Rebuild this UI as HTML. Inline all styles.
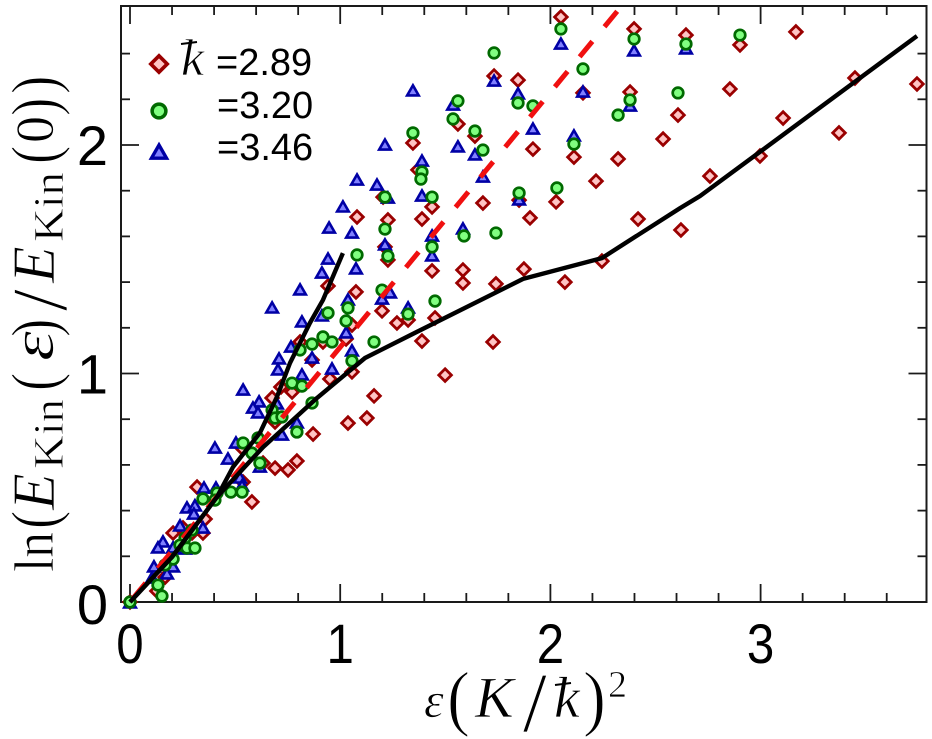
<!DOCTYPE html>
<html>
<head>
<meta charset="utf-8">
<style>
html,body{margin:0;padding:0;background:#fff;}
svg{display:block;}
.tick-label{font-family:"Liberation Sans",Arial,sans-serif;font-size:56px;fill:#000;}
.legend-label{font-family:"Liberation Sans",Arial,sans-serif;font-size:38px;fill:#000;}
.math{font-family:"Liberation Serif","DejaVu Serif",serif;fill:#000;stroke:#fff;stroke-width:0.7px;}
.it{font-style:italic;}
</style>
</head>
<body>
<svg id="chart" xmlns="http://www.w3.org/2000/svg" width="932" height="739" viewBox="0 0 932 739">
  <rect x="0" y="0" width="932" height="739" fill="#fff"/>
  <g id="grid-ticks"></g>
  <rect x="121" y="6" width="805.5" height="596" fill="none" stroke="#1a1a1a" stroke-width="2"/>
  <g id="tick-labels"></g>
  <g id="marks"></g>
  <g id="lines"></g>
  <g id="legend">
    <text class="math it" x="181" y="75" font-size="52">k</text>
    <line x1="181" y1="44" x2="197" y2="42" stroke="#000" stroke-width="2"/>
    <text class="legend-label" x="216" y="75">=2.89</text>
    <text class="legend-label" x="217" y="118">=3.20</text>
    <text class="legend-label" x="217" y="160">=3.46</text>
  </g>
  <g>
    <text class="math it" x="424" y="717" font-size="50">ε</text>
    <text class="math" font-size="46" transform="translate(447,722) scale(1.5,1.58)">(</text>
    <text class="math it" x="475" y="717" font-size="58">K</text>
    <text class="math" x="523" y="731" font-size="85">/</text>
    <text class="math it" x="554" y="717" font-size="58">k</text>
    <line x1="555" y1="685" x2="571" y2="683" stroke="#000" stroke-width="2"/>
    <text class="math" font-size="46" transform="translate(583,722) scale(1.5,1.58)">)</text>
    <text class="math" x="608" y="697" font-size="38">2</text>
  </g>
  <g transform="translate(53,0) rotate(-90)">
    <text class="math" x="-572" y="0" font-size="56" textLength="40" lengthAdjust="spacingAndGlyphs">ln</text>
    <text class="math" font-size="46" transform="translate(-529,3.4) scale(1.2,1.43)">(</text>
    <text class="math it" x="-510" y="1" font-size="60">E</text>
    <text class="math" x="-469" y="10" font-size="42" textLength="70" lengthAdjust="spacingAndGlyphs">Kin</text>
    <text class="math" font-size="46" transform="translate(-391,3.4) scale(1.2,1.43)">(</text>
    <text class="math it" x="-361" y="0" font-size="60" textLength="30" lengthAdjust="spacingAndGlyphs">ε</text>
    <text class="math" font-size="46" transform="translate(-337,3.4) scale(1.2,1.43)">)</text>
    <text class="math" x="-311" y="13" font-size="78">/</text>
    <text class="math it" x="-283" y="1" font-size="60">E</text>
    <text class="math" x="-242" y="10" font-size="42" textLength="70" lengthAdjust="spacingAndGlyphs">Kin</text>
    <text class="math" font-size="46" transform="translate(-164,3.4) scale(1.2,1.43)">(</text>
    <text class="math" x="-143" y="0" font-size="54">0</text>
    <text class="math" font-size="46" transform="translate(-116,3.4) scale(1.2,1.43)">)</text>
    <text class="math" font-size="46" transform="translate(-94,3.4) scale(1.2,1.43)">)</text>
  </g>
</svg>
<script>
const xTickLabels = [0, 1, 2, 3];
const yTickLabels = [0, 1, 2];
const xTickValues = [0,0.2,0.4,0.6,0.8,1,1.2,1.4,1.6,1.8,2,2.2,2.4,2.6,2.8,3,3.2,3.4,3.6];
const yTickValues = [0,0.2,0.4,0.6,0.8,1,1.2,1.4,1.6,1.8,2,2.2,2.4];

const series289 = [[2.050,2.560],[2.398,2.508],[2.645,2.481],[3.168,2.495],[2.902,2.438],[1.732,2.302],[1.846,2.284],[2.155,2.228],[2.379,2.232],[2.607,2.131],[1.560,2.092],[1.641,2.039],[2.536,2.026],[1.917,1.982],[2.112,1.947],[2.322,1.939],[2.217,1.842],[2.759,1.864],[1.437,1.729],[1.679,1.746],[1.851,1.759],[2.027,1.751],[1.389,1.676],[1.903,1.681],[2.417,1.676],[2.621,1.628],[1.437,1.449],[1.584,1.453],[1.584,1.396],[1.741,1.392],[1.874,1.457],[2.069,1.400],[2.245,1.492],[1.451,1.243],[1.389,1.142],[1.727,1.138],[1.499,0.993],[2.854,2.245],[3.107,2.118],[2.997,1.952],[3.449,2.293],[3.373,2.053],[3.744,2.267],[1.346,2.009],[1.370,1.891],[1.227,1.672],[1.204,1.772],[1.080,1.685],[1.213,1.554],[1.227,1.497],[0.942,1.383],[1.075,1.357],[1.199,1.274],[1.270,1.221],[1.323,1.234],[1.056,1.212],[1.028,1.151],[0.809,1.138],[0.918,1.138],[1.056,1.007],[0.951,0.976],[0.771,0.919],[0.718,0.941],[0.676,0.893],[0.690,0.788],[0.871,0.735],[1.161,0.902],[1.037,0.783],[1.127,0.805],[0.794,0.617],[0.752,0.578],[0.690,0.586],[0.633,0.608],[0.580,0.438],[0.538,0.525],[0.319,0.503],[0.357,0.363],[0.347,0.302],[0.205,0.302],[0.252,0.324],[0.295,0.302],[0.167,0.109],[0.128,0.048],[0,0],[0.866,1.059],[0.533,0.674]];

const series346 = [[2.050,2.446],[2.398,2.416],[2.645,2.425],[1.732,2.284],[2.155,2.236],[1.846,2.228],[2.379,2.175],[1.537,2.179],[1.917,2.074],[2.112,2.044],[1.560,1.996],[1.641,1.961],[1.679,1.864],[1.389,1.934],[1.389,1.781],[1.851,1.764],[1.584,1.637],[1.437,1.606],[1.437,1.519],[1.346,2.241],[1.213,2.004],[1.080,1.851],[1.175,1.829],[1.227,1.772],[1.013,1.733],[0.947,1.641],[1.056,1.619],[1.213,1.567],[0.942,1.505],[1.075,1.462],[0.913,1.444],[0.809,1.370],[1.037,1.326],[1.237,1.357],[1.199,1.330],[0.676,1.291],[1.323,1.291],[0.818,1.230],[0.913,1.256],[1.028,1.182],[0.766,1.120],[1.056,1.103],[0.709,1.068],[0.866,1.072],[0.704,1.020],[0.818,0.998],[0.961,1.024],[0.538,0.932],[0.614,0.880],[0.585,0.853],[0.609,0.832],[0.699,0.871],[0.794,0.788],[0.723,0.735],[0.404,0.678],[0.504,0.700],[0.466,0.630],[0.618,0.595],[0.523,0.547],[0.533,0.512],[0.352,0.503],[0.409,0.503],[0.271,0.416],[0.309,0.425],[0.304,0.389],[0.238,0.337],[0.347,0.328],[0.157,0.267],[0.133,0.241],[0.205,0.241],[0.262,0.236],[0.114,0.158],[0.205,0.158],[0.176,0.127],[0.105,0.109],[0,0]];

const series320 = [[1.732,2.403],[2.050,2.508],[2.398,2.464],[2.645,2.442],[2.902,2.481],[2.155,2.333],[2.607,2.228],[1.560,2.193],[1.846,2.184],[1.917,2.171],[2.379,2.197],[1.537,2.114],[2.322,2.131],[1.641,2.061],[1.679,1.978],[2.112,2.004],[1.389,1.882],[1.384,1.851],[1.437,1.772],[1.851,1.790],[2.031,1.812],[1.589,1.602],[1.741,1.615],[1.437,1.554],[1.451,1.317],[1.346,2.053],[1.213,1.772],[1.213,1.632],[1.080,1.519],[1.227,1.514],[1.199,1.365],[0.942,1.265],[1.037,1.287],[1.028,1.230],[1.323,1.260],[1.161,1.138],[0.918,1.160],[0.961,1.138],[0.866,1.129],[0.809,1.103],[1.056,1.055],[0.771,0.958],[0.818,0.945],[0.866,0.871],[0.676,0.840],[0.690,0.805],[0.723,0.810],[0.794,0.744],[0.609,0.718],[0.538,0.696],[0.580,0.652],[0.618,0.608],[0.480,0.481],[0.533,0.481],[0.414,0.477],[0.404,0.446],[0.347,0.451],[0.295,0.315],[0.262,0.280],[0.238,0.249],[0.271,0.236],[0.309,0.236],[0.205,0.188],[0.167,0.162],[0.133,0.074],[0.152,0.026],[0,0]];

const fitLower = [[0,0],[0.200,0.197],[0.414,0.460],[0.633,0.678],[0.890,0.893],[1.118,1.068],[1.365,1.182],[1.870,1.414],[2.245,1.505],[2.617,1.724],[2.712,1.777],[3.744,2.477]];
const fitUpper = [[0,0],[0.200,0.197],[0.414,0.460],[0.490,0.591],[0.618,0.740],[0.699,0.897],[0.761,1.046],[0.856,1.221],[0.918,1.322],[1.013,1.527]];
const fitDashed = [[0,0],[2.331,2.600]];

const NS = 'http://www.w3.org/2000/svg';
function xScale(v){ return 130 + v * 210.2; }
function yScale(v){ return 602 - v * 228.5; }
function make(tag, attrs){
  const el = document.createElementNS(NS, tag);
  for (const k in attrs) el.setAttribute(k, attrs[k]);
  return el;
}
const tickLayer = document.getElementById('grid-ticks');
const labelLayer = document.getElementById('tick-labels');
const markLayer = document.getElementById('marks');
const lineLayer = document.getElementById('lines');
const legendLayer = document.getElementById('legend');

function isMajor(v){ return Math.abs(v - Math.round(v)) < 1e-6; }

xTickValues.forEach(function(v){
  const len = isMajor(v) ? 18 : 9;
  const x = xScale(v);
  const top = make('line', {x1:x, x2:x, y1:6, y2:6 + len, stroke:'#1a1a1a', 'stroke-width':1.8});
  
  
  tickLayer.appendChild(top);
  const bottom = make('line', {x1:x, x2:x, y1:602, y2:602 - len, stroke:'#1a1a1a', 'stroke-width':1.8});
  
  
  tickLayer.appendChild(bottom);
});
yTickValues.forEach(function(v){
  const len = isMajor(v) ? 18 : 9;
  const y = yScale(v);
  const left = make('line', {x1:121, x2:121 + len, y1:y, y2:y, stroke:'#1a1a1a', 'stroke-width':1.8});
  
  
  tickLayer.appendChild(left);
  const right = make('line', {x1:926.5, x2:926.5 - len, y1:y, y2:y, stroke:'#1a1a1a', 'stroke-width':1.8});
  
  
  tickLayer.appendChild(right);
});
xTickLabels.forEach(function(v){
  const t = make('text', {class:'tick-label', 'text-anchor':'middle', transform:'translate(' + xScale(v) + ',663) scale(0.88,1)'});
  
  
  t.textContent = String(v);
  labelLayer.appendChild(t);
});
yTickLabels.forEach(function(v){
  const t = make('text', {class:'tick-label', x:108, y:yScale(v) + (v === 0 ? 22 : 20), 'text-anchor':'end'});
  
  
  t.textContent = String(v);
  labelLayer.appendChild(t);
});

function diamond(cx, cy, s){
  const h = 6.3 * s;
  return make('polygon', {points:[[cx,cy-h],[cx+h,cy],[cx,cy+h],[cx-h,cy]].join(' '), fill:'#ffc4c4', stroke:'#9a0000', 'stroke-width':2.8 * s});
}
function circle(cx, cy, s){
  return make('circle', {cx:cx, cy:cy, r:5.3 * s, fill:'#80ff80', stroke:'#006a00', 'stroke-width':2.7 * s});
}
function triangle(cx, cy, s){
  const pts = [[cx,cy-4.6*s],[cx+5.8*s,cy+5.5*s],[cx-5.8*s,cy+5.5*s]];
  return make('polygon', {points:pts.join(' '), fill:'#8080ff', stroke:'#0000a5', 'stroke-width':2.6 * s});
}

series289.forEach(function(p){
  const m = diamond(xScale(p[0]), yScale(p[1]), 1);
  
  
  markLayer.appendChild(m);
});
series346.forEach(function(p){
  const m = triangle(xScale(p[0]), yScale(p[1]), 1);
  
  
  markLayer.appendChild(m);
});
series320.forEach(function(p){
  const m = circle(xScale(p[0]), yScale(p[1]), 1);
  
  
  markLayer.appendChild(m);
});

function pathFrom(pts){
  return pts.map(function(p, i){ return (i ? 'L' : 'M') + xScale(p[0]).toFixed(1) + ' ' + yScale(p[1]).toFixed(1); }).join(' ');
}
const dashedLine = make('path', {d:pathFrom(fitDashed), fill:'none', stroke:'#f01010', 'stroke-width':5, 'stroke-dasharray':'20 19', 'stroke-dashoffset':'-4.7'});


lineLayer.appendChild(dashedLine);
const upperLine = make('path', {d:pathFrom(fitUpper), fill:'none', stroke:'#000', 'stroke-width':4.4, 'stroke-linejoin':'round'});


lineLayer.appendChild(upperLine);
const lowerLine = make('path', {d:pathFrom(fitLower), fill:'none', stroke:'#000', 'stroke-width':4.4, 'stroke-linejoin':'round'});


lineLayer.appendChild(lowerLine);

const legendDiamond = diamond(159, 64, 1.3);


legendLayer.appendChild(legendDiamond);
const legendCircle = circle(159, 111, 1.3);


legendLayer.appendChild(legendCircle);
const legendTriangle = triangle(159, 151, 1.3);


legendLayer.appendChild(legendTriangle);
</script>
</body>
</html>
